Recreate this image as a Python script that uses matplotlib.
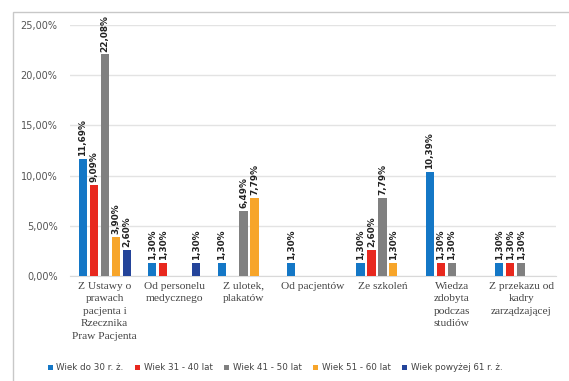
import matplotlib
matplotlib.use('Agg')
import matplotlib.pyplot as plt
from matplotlib.patches import Rectangle
import numpy as np

# share of answers per source of knowledge, by age group (%)
categories = ['Z Ustawy o\nprawach\npacjenta i\nRzecznika\nPraw Pacjenta',
              'Od personelu\nmedycznego',
              'Z ulotek,\nplakatów',
              'Od pacjentów',
              'Ze szkoleń',
              'Wiedza\nzdobyta\npodczas\nstudiów',
              'Z przekazu od\nkadry\nzarządzającej']
groups = ['Wiek do 30 r. ż.', 'Wiek 31 - 40 lat', 'Wiek 41 - 50 lat',
          'Wiek 51 - 60 lat', 'Wiek powyżej 61 r. ż.']
age_30 = [11.69, 1.30, 1.30, 1.30, 1.30, 10.39, 1.30]
age_31_40 = [9.09, 1.30, 0, 0, 2.60, 1.30, 1.30]
age_41_50 = [22.08, 0, 6.49, 0, 7.79, 1.30, 1.30]
age_51_60 = [3.90, 0, 7.79, 0, 1.30, 0, 0]
age_61 = [2.60, 1.30, 0, 0, 0, 0, 0]
series = [age_30, age_31_40, age_41_50, age_51_60, age_61]
colors = ['#1477C6', '#E8281E', '#808080', '#F7A52A', '#24449A']

fig = plt.figure(figsize=(5.69, 3.81), dpi=100)
# light frame around the chart area
fig.patches.append(Rectangle((13/569, -0.1), 1.2, 1 - 12/381 + 0.1,
                             transform=fig.transFigure, fill=False,
                             edgecolor='#C8C8C8', linewidth=1.0))
ax = fig.add_axes([70/569, 1 - 276/381, 486/569, 251/381])

x = np.arange(len(categories))
step = 0.158
width = 0.118
for i, vals in enumerate(series):
    pos = x + (i - 2) * step
    ax.bar(pos, vals, width, color=colors[i], label=groups[i], zorder=3)
    for p, v in zip(pos, vals):
        if v > 0:
            ax.text(p, v + 0.25, ('%.2f%%' % v).replace('.', ','),
                    rotation=90, ha='center', va='bottom', fontsize=6.4,
                    fontweight='bold', color='#222222')

ax.set_ylim(0, 25)
ax.set_xlim(-0.5, len(categories) - 0.5)
ticks = np.arange(0, 26, 5)
ax.set_yticks(ticks)
ax.set_yticklabels([('%.2f%%' % t).replace('.', ',') for t in ticks],
                   fontsize=7, color='#555555')
ax.set_xticks(x)
ax.set_xticklabels(categories, fontsize=8.2, family='Liberation Serif',
                   color='#444444', linespacing=1.5)
ax.tick_params(axis='both', length=0, pad=9)
ax.tick_params(axis='x', pad=4)
ax.grid(axis='y', color='#E3E3E3', linewidth=1.0, zorder=0)
for s in ['top', 'right', 'left']:
    ax.spines[s].set_visible(False)
ax.spines['bottom'].set_color('#D9D9D9')

ax.legend(loc='center', bbox_to_anchor=(275/569, 1 - 368/381),
          bbox_transform=fig.transFigure, ncol=5, frameon=False,
          fontsize=6.3, handlelength=0.6, handleheight=0.6,
          handletextpad=0.4, columnspacing=1.3, labelcolor='#444444')

fig.savefig('out.png', dpi=100)
